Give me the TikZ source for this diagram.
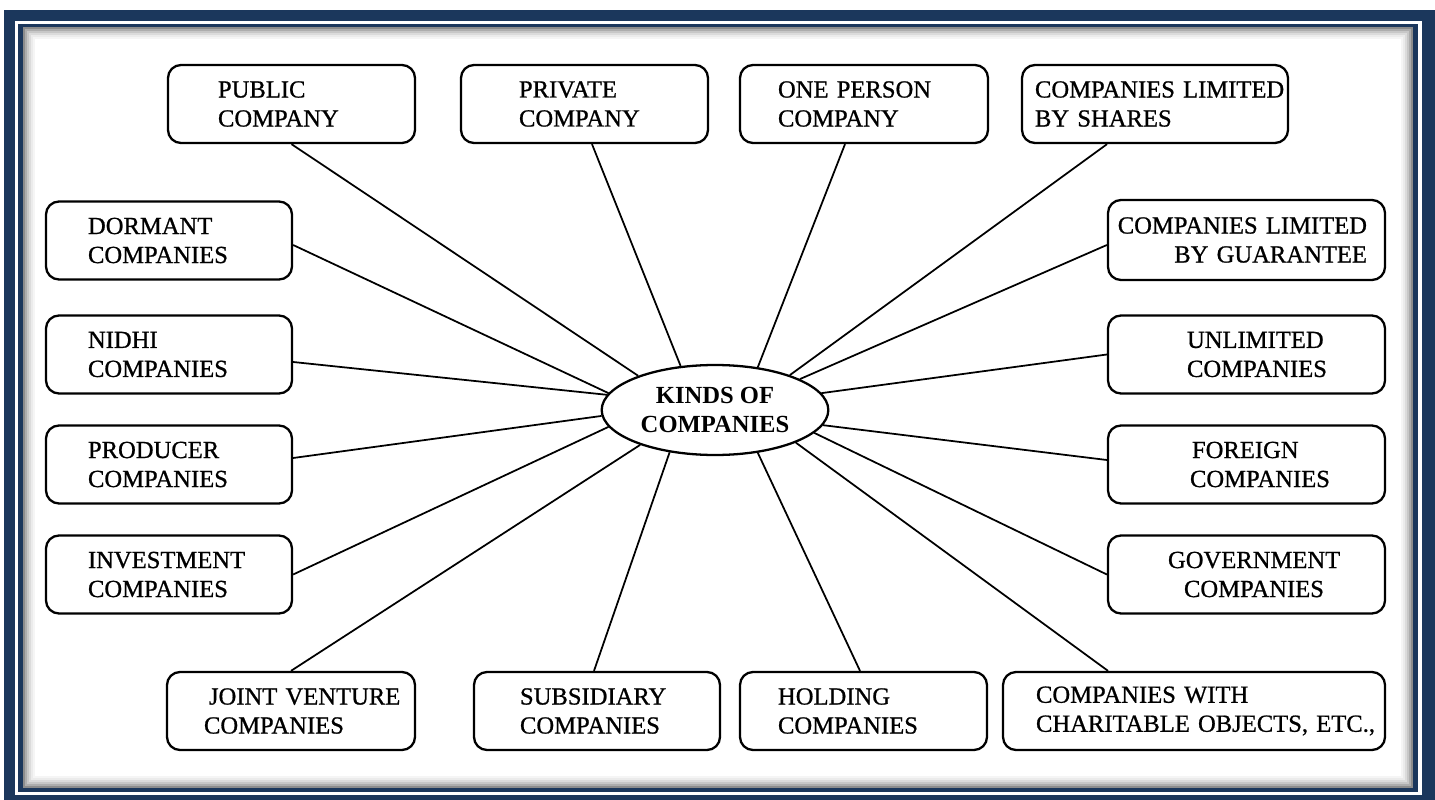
\documentclass[tikz,border=0pt]{standalone}
\usepackage{fontspec}
\setmainfont{Liberation Serif}
\newfontfamily\kindfont{Liberation Serif}[FakeBold=0.8]
\usepackage{tikz}
\usetikzlibrary{shapes.geometric, positioning}
\definecolor{frameblue}{HTML}{1B375C}
\tikzstyle{kind} = [rectangle, rounded corners=0.26cm, 
draw=black, line width=1.3pt, minimum height=1.56cm, 
inner xsep=0pt, align=left, 
font=\kindfont\fontsize{14}{16.5}\selectfont]
\tikzstyle{hub} = [ellipse, draw=black, line width=1.3pt, 
minimum width=4.48cm, minimum height=1.8cm, align=center, 
font=\bfseries\fontsize{14}{16.5}\selectfont]
\tikzstyle{link} = [line width=1.0pt]

\begin{document}
\begin{tikzpicture}[node distance=2.2cm]
\useasboundingbox (0,0) rectangle (28.7,-16);

%-------frame-------------------
\fill [frameblue] (0.08,-0.2) rectangle (28.7,-16);
\fill [white] (0.30,-0.42) rectangle (28.44,-15.90);
\fill [frameblue] (0.36,-0.48) rectangle (28.36,-15.84);
\fill [white] (0.46,-0.54) rectangle (28.26,-15.76);
\foreach \i/\c in {0/45,1/32,2/22,3/14,4/8,5/4}
  \draw [black!\c, line width=0.04cm] 
  (0.48+0.04*\i,-0.56-0.04*\i) rectangle (28.24-0.04*\i,-15.74+0.04*\i);

%-------centre-------------------
\node (kinds) [hub] at (14.30,-8.20) {KINDS OF\\COMPANIES};

%-------top row-------------------
\node (pub) [kind, text width=4.94cm] at (5.83,-2.08) 
{\hspace*{1.0cm}PUBLIC\\\hspace*{1.0cm}COMPANY};

\node (priv) [kind, text width=4.94cm] at (11.69,-2.08) 
{\hspace*{1.16cm}PRIVATE\\\hspace*{1.16cm}COMPANY};

\node (one) [kind, text width=4.96cm] at (17.28,-2.08) 
{\hspace*{0.76cm}ONE PERSON\\\hspace*{0.76cm}COMPANY};

\node (shares) [kind, text width=5.32cm] at (23.10,-2.08) 
{\hspace*{0.26cm}COMPANIES LIMITED\\\hspace*{0.26cm}BY SHARES};

%-------left column-------------------
\node (dorm) [kind, text width=4.92cm] at (3.38,-4.81) 
{\hspace*{0.84cm}DORMANT\\\hspace*{0.84cm}COMPANIES};

\node (nidhi) [kind, text width=4.92cm, below of=dorm, yshift=-0.08cm] 
{\hspace*{0.84cm}NIDHI\\\hspace*{0.84cm}COMPANIES};

\node (prod) [kind, text width=4.92cm, below of=nidhi] 
{\hspace*{0.84cm}PRODUCER\\\hspace*{0.84cm}COMPANIES};

\node (inv) [kind, text width=4.92cm, below of=prod] 
{\hspace*{0.84cm}INVESTMENT\\\hspace*{0.84cm}COMPANIES};

%-------right column-------------------
\node (guar) [kind, text width=5.54cm, align=right, 
minimum height=1.6cm] at (24.93,-4.80) 
{COMPANIES LIMITED\hspace*{0.36cm}\mbox{}\\
BY GUARANTEE\hspace*{0.36cm}\mbox{}};

\node (unlim) [kind, text width=5.54cm, below of=guar, yshift=-0.09cm] 
{\hspace*{1.58cm}UNLIMITED\\\hspace*{1.58cm}COMPANIES};

\node (foreign) [kind, text width=5.54cm, below of=unlim] 
{\hspace*{1.68cm}FOREIGN\\\hspace*{1.64cm}COMPANIES};

\node (govt) [kind, text width=5.54cm, below of=foreign] 
{\hspace*{1.20cm}GOVERNMENT\\\hspace*{1.52cm}COMPANIES};

%-------bottom row-------------------
\node (joint) [kind, text width=4.96cm] at (5.82,-14.22) 
{\hspace*{0.84cm}JOINT VENTURE\\\hspace*{0.74cm}COMPANIES};

\node (subs) [kind, text width=4.92cm] at (11.94,-14.22) 
{\hspace*{0.92cm}SUBSIDIARY\\\hspace*{0.92cm}COMPANIES};

\node (hold) [kind, text width=4.94cm] at (17.27,-14.22) 
{\hspace*{0.76cm}HOLDING\\\hspace*{0.76cm}COMPANIES};

\node (charit) [kind, text width=7.64cm] at (23.88,-14.22) 
{\hspace*{0.66cm}COMPANIES WITH\\\hspace*{0.66cm}CHARITABLE OBJECTS, ETC.,};

%-------spokes-------------------
\draw [link] (pub.south) -- (kinds.156);
\draw [link] ([xshift=0.15cm]priv.south) -- (kinds.128);
\draw [link] ([xshift=-0.38cm]one.south) -- (kinds.45);
\draw [link] ([xshift=-0.96cm]shares.south) -- (kinds.25);

\draw [link] ([yshift=-0.09cm]dorm.east) -- (kinds.171);
\draw [link] ([yshift=-0.15cm]nidhi.east) -- (kinds.172);
\draw [link] ([yshift=0.13cm]prod.east) -- (kinds.183);
\draw [link] (inv.east) -- (kinds.189);

\draw [link] ([yshift=-0.1cm]guar.west) -- (kinds.20);
\draw [link] (unlim.west) -- (kinds.9);
\draw [link] ([yshift=0.09cm]foreign.west) -- (kinds.352);
\draw [link] (govt.west) -- (kinds.347);

\draw [link] (joint.north) -- (kinds.205);
\draw [link] ([xshift=-0.06cm]subs.north) -- (kinds.223);
\draw [link] ([xshift=-0.07cm]hold.north) -- (kinds.315);
\draw [link] ([xshift=-1.72cm]charit.north) -- (kinds.338);

\end{tikzpicture}
\end{document}
